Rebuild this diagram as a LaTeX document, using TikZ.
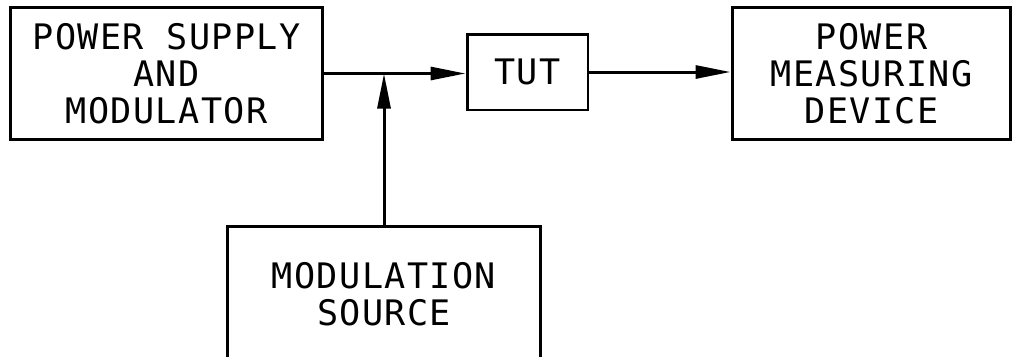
\documentclass[tikz,border=0pt]{standalone}
\usepackage{fontspec}
\newfontfamily\labelfont[LetterSpace=4]{DejaVu Sans Mono}
\usepackage{tikz}
\usetikzlibrary{arrows.meta, positioning}

\begin{document}
\begin{tikzpicture}[
  x=0.02cm, y=-0.02cm,
  block/.style={draw, rectangle, line width=0.06cm, align=center, inner sep=0pt,
                font=\labelfont\fontsize{20}{21}\selectfont},
  signal/.style={line width=0.06cm, -{Triangle[length=0.7cm, width=0.26cm]}},
  every node/.style={anchor=center}
]
  \useasboundingbox (0,0) rectangle (1016,356);
  \clip (0,0) rectangle (1016,356);
  \node[block, minimum width=6.26cm, minimum height=2.66cm] (psm) at (166.5,73.5) {POWER SUPPLY\\AND\\MODULATOR};
  \node[block, minimum width=2.42cm, minimum height=1.52cm] (tut) at (527.5,72)   {TUT};
  \node[block, minimum width=5.58cm, minimum height=2.66cm] (pmd) at (871.5,73.5) {POWER\\MEASURING\\DEVICE};
  \node[block, minimum width=6.28cm, minimum height=2.72cm] (src) at (384,294)    {MODULATION\\SOURCE};
  \draw[signal] (psm.east) -- (psm.east -| tut.west);
  \draw[signal] (src.north) -- (src.north |- psm.east);
  \draw[signal] (tut.east) -- (tut.east -| pmd.west);
\end{tikzpicture}
\end{document}
